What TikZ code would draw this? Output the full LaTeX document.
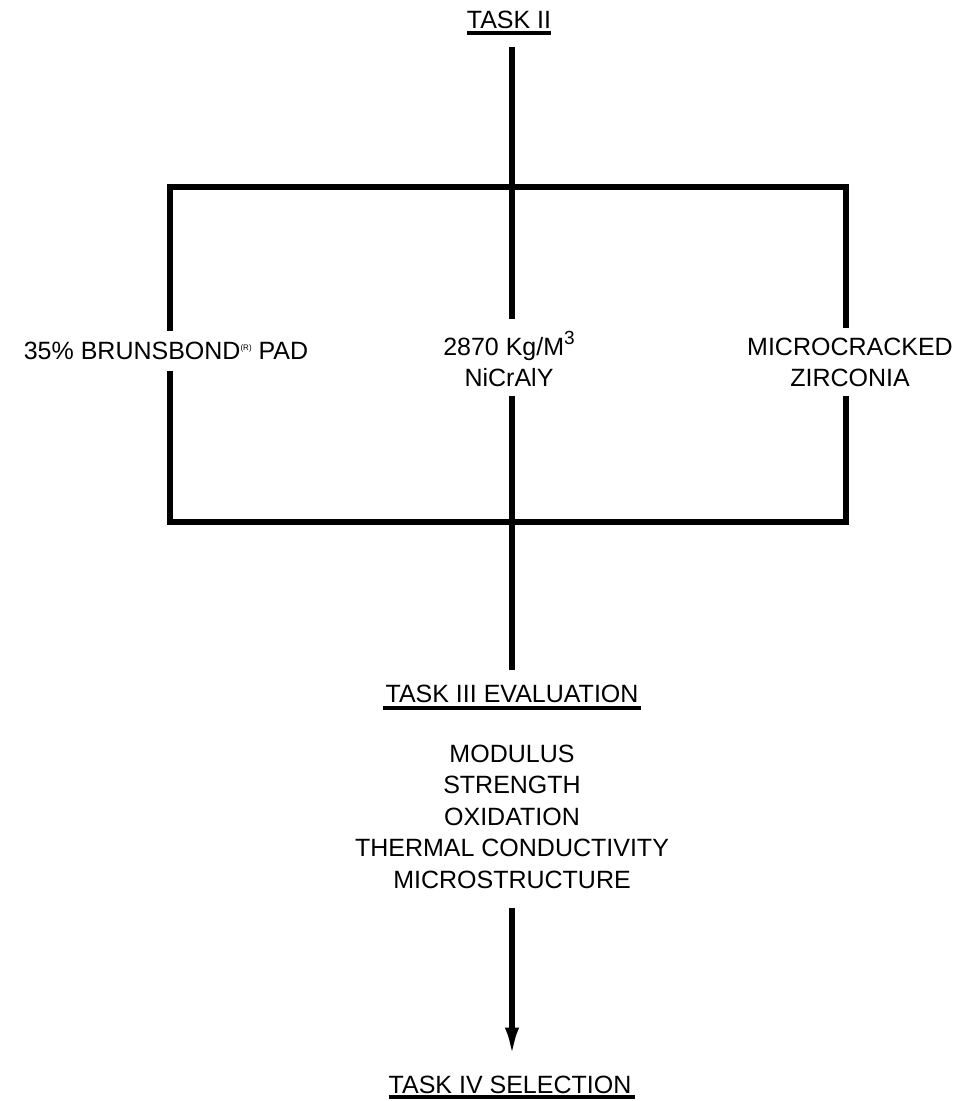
\documentclass[tikz,border=0pt]{standalone}
\usepackage{fontspec}
\setmainfont{Liberation Sans}
\usetikzlibrary{arrows.meta}
\begin{document}
\begin{tikzpicture}[x=1pt,y=-1pt,
  lbl/.style={font=\fontsize{25}{31}\selectfont, inner sep=0pt, outer sep=0pt, align=center, anchor=base},
  conn/.style={line width=5.5pt, line cap=butt},
  uline/.style={line width=3.5pt},
  arr/.style={line width=5.5pt, -{Latex[length=30pt,width=14pt]}}]
\useasboundingbox[fill=white] (0,0) rectangle (957,1101);
% text nodes (base = baseline of the last line)
\node[lbl] (t2) at (509,28) {TASK II};
\node[lbl] (lft) at (166,359) {35\% BRUNSBOND\raisebox{9pt}{\fontsize{8}{8}\selectfont(R)} PAD};
\node[lbl] (mid) at (509,386) {2870 Kg/M\raisebox{11pt}{\fontsize{19}{19}\selectfont 3}\\NiCrAlY};
\node[lbl] (rgt) at (850,386) {MICROCRACKED\\ZIRCONIA};
\node[lbl] (t3) at (512,702) {TASK III EVALUATION};
\node[lbl, font=\fontsize{25}{31.5}\selectfont] (lst) at (512,888) {MODULUS\\STRENGTH\\OXIDATION\\THERMAL CONDUCTIVITY\\MICROSTRUCTURE};
\node[lbl] (t4) at (510,1093) {TASK IV SELECTION};
% underlines
\draw[uline] ([yshift=-5pt]t2.base west) -- ([yshift=-5pt]t2.base east);
\draw[uline] ([xshift=-3pt,yshift=-6pt]t3.base west) -- ([xshift=3pt,yshift=-6pt]t3.base east);
\draw[uline] ([yshift=-4pt]t4.base west) -- ([xshift=4pt,yshift=-4pt]t4.base east);
% box corners
\coordinate (TL) at (170,187);
\coordinate (TR) at (846,187);
\coordinate (BL) at (170,522);
\coordinate (BR) at (846,522);
% box with gaps at the labels
\draw[conn, shorten <=11pt, shorten >=10pt] (lft.north -| TL) -- (TL) -- (TR) -- (rgt.north -| TR);
\draw[conn, shorten <=12pt, shorten >=10pt] (lft.south -| BL) -- (BL) -- (BR) -- (rgt.south -| BR);
% central flow
\draw[conn, shorten <=19pt, shorten >=12pt] (t2.south -| 512,0) -- (mid.north -| 512,0);
\draw[conn, shorten <=10pt, shorten >=15pt] (mid.south -| 512,0) -- (t3.north -| 512,0);
\draw[arr, shorten <=20pt, shorten >=18pt] (lst.south -| 512,0) -- (t4.north -| 512,0);
\end{tikzpicture}
\end{document}
